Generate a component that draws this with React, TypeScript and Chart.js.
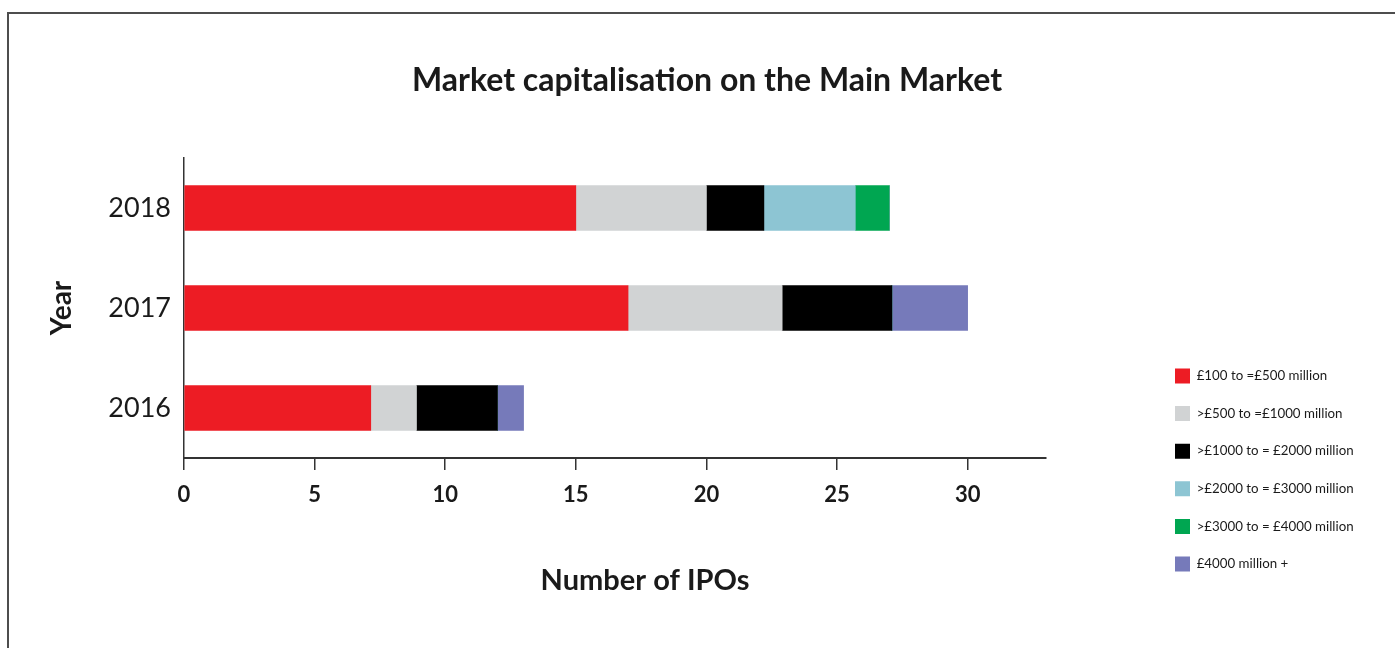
import React, { useEffect, useRef } from 'react';
import { Chart, registerables } from 'chart.js';

Chart.register(...registerables);

// ---- data ----
const YEARS = ['2018', '2017', '2016'];
const SERIES_LABELS = [
  '£100 to =£500 million',
  '>£500 to =£1000 million',
  '>£1000 to = £2000 million',
  '>£2000 to = £3000 million',
  '>£3000 to = £4000 million',
  '£4000 million +',
];
const SERIES_COLORS = ['#ED1C24', '#D1D3D4', '#000000', '#8DC5D3', '#00A651', '#767ABA'];
const BAND_100_500 = [15, 17, 7.15];
const BAND_500_1000 = [5, 5.9, 1.75];
const BAND_1000_2000 = [2.2, 4.2, 3.1];
const BAND_2000_3000 = [3.5, 0, 0];
const BAND_3000_4000 = [1.3, 0, 0];
const BAND_4000_PLUS = [0, 2.9, 1.0];
const SERIES_VALUES = [BAND_100_500, BAND_500_1000, BAND_1000_2000, BAND_2000_3000, BAND_3000_4000, BAND_4000_PLUS];
const X_TICK_STEP = 5;
const X_MAX = 33;

const TITLE = 'Market capitalisation on the Main Market';
const X_TITLE = 'Number of IPOs';
const Y_TITLE = 'Year';

const FONT = 'Lato';
const TEXT = '#1a1a1a';
const AXIS = '#333333';

// place the legend at a fixed spot beside the plot
const legendPlacer = {
  id: 'legendPlacer',
  afterLayout(chart: any, _args: any, opts: any) {
    const lg = chart.legend;
    if (!lg) return;
    const pad = lg.options.labels.padding;
    lg.left = opts.x - pad;
    lg.right = lg.left + 320;
    lg.top = opts.y - pad;
    lg.bottom = lg.top + 320;
    lg.width = lg.right - lg.left;
    lg.height = lg.bottom - lg.top;
  },
};

// axis title drawn centred where the reference has it
const xTitleCentered = {
  id: 'xTitleCentered',
  afterDraw(chart: any, _args: any, opts: any) {
    const { ctx } = chart;
    ctx.save();
    ctx.font = `bold ${opts.size}px ${FONT}`;
    ctx.fillStyle = opts.color;
    ctx.textAlign = 'center';
    ctx.textBaseline = 'middle';
    ctx.fillText(opts.text, opts.x, opts.y);
    ctx.restore();
  },
};

export default function App() {
  const ref = useRef<HTMLCanvasElement>(null);

  useEffect(() => {
    document.documentElement.style.overflow = 'hidden';
    const chart = new Chart(ref.current as HTMLCanvasElement, {
      type: 'bar',
      data: {
        labels: YEARS,
        datasets: SERIES_VALUES.map((vals, i) => ({
          label: SERIES_LABELS[i],
          data: vals,
          backgroundColor: SERIES_COLORS[i],
          borderWidth: 0,
          barThickness: 45,
        })),
      },
      plugins: [legendPlacer, xTitleCentered],
      options: {
        indexAxis: 'y',
        responsive: false,
        animation: false,
        events: [],
        layout: { padding: 0 },
        scales: {
          x: {
            type: 'linear',
            stacked: true,
            min: 0,
            max: X_MAX,
            afterBuildTicks: (s: any) => {
              s.ticks = s.ticks.filter((t: any) => t.value % X_TICK_STEP === 0);
            },
            afterFit: (s: any) => {
              s.height = 190;
            },
            ticks: {
              stepSize: X_TICK_STEP,
              padding: 12,
              color: TEXT,
              font: { family: FONT, size: 22, weight: 'bold' },
            },
            grid: {
              display: true,
              drawOnChartArea: false,
              drawTicks: true,
              tickLength: 12,
              color: AXIS,
              lineWidth: 1.5,
            },
            border: { display: true, color: AXIS, width: 2 },
          },
          y: {
            type: 'category',
            stacked: true,
            position: 'left',
            afterFit: (s: any) => {
              s.width = 175;
            },
            ticks: {
              padding: 13,
              color: TEXT,
              font: { family: FONT, size: 27 },
            },
            grid: { display: false, drawTicks: false },
            border: { display: true, color: AXIS, width: 1.5 },
            title: {
              display: true,
              text: Y_TITLE,
              color: TEXT,
              font: { family: FONT, size: 28, weight: 'bold' },
              padding: { top: 36, bottom: 0 },
            },
          },
          yRight: {
            type: 'linear',
            position: 'right',
            display: true,
            afterFit: (s: any) => {
              s.width = 359;
            },
            ticks: { display: false },
            grid: { display: false, drawTicks: false },
            border: { display: false },
          },
        },
        plugins: {
          title: {
            display: true,
            text: TITLE,
            color: TEXT,
            font: { family: FONT, size: 32, weight: 'bold' },
            padding: { top: 47.4, bottom: 58.2 },
          },
          legend: {
            display: true,
            position: 'chartArea',
            align: 'start',
            labels: {
              boxWidth: 15,
              boxHeight: 15,
              padding: 22.6,
              color: TEXT,
              font: { family: FONT, size: 13.3 },
            },
          },
          tooltip: { enabled: false },
          legendPlacer: { x: 1166, y: 354.5 },
          xTitleCentered: { text: X_TITLE, x: 636, y: 567, size: 29, color: TEXT },
        } as any,
      },
    } as any);
    return () => chart.destroy();
  }, []);

  return (
    <div
      style={{
        position: 'absolute',
        left: 7,
        top: 12,
        width: 1400,
        height: 650,
        border: '2px solid #4d4d4d',
        overflow: 'hidden',
        background: '#ffffff',
      }}
    >
      <canvas ref={ref} width={1396} height={634} style={{ display: 'block', width: 1396, height: 634 }} />
    </div>
  );
}
